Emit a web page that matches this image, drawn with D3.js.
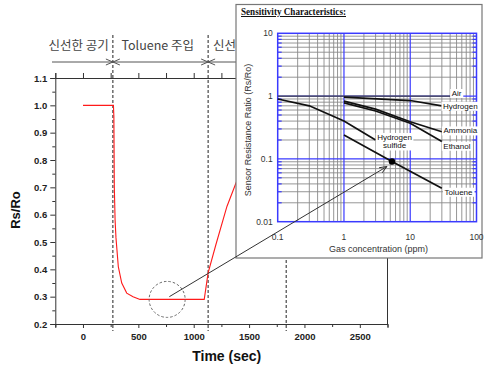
<!DOCTYPE html>
<html>
<head>
<meta charset="utf-8">
<script src="https://cdn.jsdelivr.net/npm/d3@7"></script>
<style>
body{margin:0;background:#fff;}
svg{display:block;}
</style>
</head>
<body>
<svg id="chart" width="486" height="366"></svg>
<script>
// sensor response to toluene, Rs/Ro over time
var timeSec = [0, 275, 279, 283, 290, 298, 319, 350, 395, 452, 515, 1095, 1130, 1200, 1300, 1400, 1440];
var rsRo    = [1.0, 1.0, 0.96, 0.70, 0.58, 0.515, 0.41, 0.35, 0.313, 0.30, 0.29, 0.29, 0.387, 0.49, 0.63, 0.735, 0.78];
var timeTicks = [0, 500, 1000, 1500, 2000, 2500];
var timeMinor = [-250, 250, 750, 1250, 1750, 2250, 2750];
var ratioTicks = [0.2, 0.3, 0.4, 0.5, 0.6, 0.7, 0.8, 0.9, 1.0, 1.1];
var ratioMinor = [0.25, 0.35, 0.45, 0.55, 0.65, 0.75, 0.85, 0.95, 1.05];
var phaseLines = [270, 1130, 1835];
var phaseLabels = ["신선한 공기", "Toluene 주입", "신선한"];
var phaseLabelAt = [-40, 675, 1175];
var phaseAnchor = ["middle", "middle", "start"];

// inset: sensitivity characteristics (log-log)
var airConc = [0.1, 40],        airRatio = [1.0, 1.0];
var hydConc = [1, 10, 30],      hydRatio = [0.96, 0.85, 0.70];
var ammConc = [1, 3, 10, 30],   ammRatio = [0.83, 0.62, 0.39, 0.27];
var ethConc = [1, 3, 10, 30],   ethRatio = [0.78, 0.58, 0.37, 0.19];
var h2sConc = [0.1, 0.3, 1, 3], h2sRatio = [0.9, 0.7, 0.4, 0.2];
var tolConc = [1, 5.3, 30],     tolRatio = [0.24, 0.091, 0.034];
var gasNames = ["Air", "Hydrogen", "Ammonia", "Ethanol", "Hydrogen|sulfide", "Toluene"];
var gasLabelConc  = [50, 57, 57, 50.6, 5.8, 53.5];
var gasLabelRatio = [1.12, 0.70, 0.284, 0.162, 0.193, 0.030];
var concTicks = [0.1, 1, 10, 100];
var concTickLabels = ["0.1", "1", "10", "100"];
var logRatioTicks = [0.01, 0.1, 1, 10];
var logRatioLabels = ["0.01", "0.1", "1", "10"];
var markConc = 5.3, markRatio = 0.091;
var zoomTime = 760, zoomRatio = 0.29;

var svg = d3.select("#chart");
var sans = "'Liberation Sans', Arial, sans-serif";

var x = d3.scaleLinear().domain([-250, 2750]).range([55.3, 387.5]);
var y = d3.scaleLinear().domain([0.2, 1.1]).range([324, 78]);

var main = svg.append("g").attr("id", "main");

// axes
function styleAxis(g)
{
    g.selectAll("path.domain").attr("stroke", "#333");
    g.selectAll(".tick line").attr("stroke", "#333");
    g.selectAll("text")
    .style("font-family", sans)
    .style("font-weight", "bold")
    .style("font-size", "9.5px")
    .attr("fill", "#222");
}

main.append("g").attr("transform", "translate(" + x.range()[0] + ",0)")
.call(d3.axisLeft(y).tickValues(ratioTicks).tickSize(5).tickPadding(3).tickFormat(d3.format(".1f")))
.call(styleAxis);
main.append("g").attr("transform", "translate(" + x.range()[0] + ",0)")
.call(d3.axisLeft(y).tickValues(ratioMinor).tickSize(3).tickFormat(""))
.call(styleAxis).select("path.domain").remove();

main.append("g").attr("transform", "translate(0," + y.range()[0] + ")")
.call(d3.axisBottom(x).tickValues(timeTicks).tickSize(4).tickPadding(5).tickFormat(d3.format("d")))
.call(styleAxis);
main.append("g").attr("transform", "translate(0," + y.range()[0] + ")")
.call(d3.axisBottom(x).tickValues(timeMinor).tickSize(3).tickFormat(""))
.call(styleAxis).select("path.domain").remove();

main.append("g").attr("transform", "translate(0," + y.range()[1] + ")")
.call(d3.axisTop(x).tickValues(timeTicks.concat(timeMinor)).tickSize(5).tickFormat(""))
.call(styleAxis);

main.append("line")
.attr("x1", x.range()[1]).attr("x2", x.range()[1])
.attr("y1", y.range()[1]).attr("y2", y.range()[0])
.attr("stroke", "#333");

// phase separators
main.selectAll("line.phase").data(phaseLines).enter().append("line")
.attr("class", "phase")
.attr("x1", function(d){ return x(d); }).attr("x2", function(d){ return x(d); })
.attr("y1", 35).attr("y2", 331)
.attr("stroke", "#222").attr("stroke-width", 1)
.attr("stroke-dasharray", "3,2");

main.append("line")
.attr("x1", 52).attr("x2", 480)
.attr("y1", 62).attr("y2", 62)
.attr("stroke", "#555");

main.selectAll("path.chev").data(phaseLines).enter().append("path")
.attr("class", "chev")
.attr("d", function(d){
    var px = x(d);
    return "M" + (px - 7) + ",59L" + px + ",62L" + (px - 7) + ",65" +
           "M" + (px + 7) + ",59L" + px + ",62L" + (px + 7) + ",65";
})
.attr("fill", "none").attr("stroke", "#555");

main.selectAll("text.phase").data(phaseLabels).enter().append("text")
.attr("class", "phase")
.attr("x", function(d, i){ return x(phaseLabelAt[i]); })
.attr("y", 50)
.attr("text-anchor", function(d, i){ return phaseAnchor[i]; })
.style("font-family", "'Noto Sans CJK KR', 'Noto Sans', sans-serif")
.style("font-size", "12.5px")
.attr("fill", "#444")
.text(function(d){ return d; });

// response curve
main.append("path")
.datum(timeSec.map(function(t, i){ return [t, rsRo[i]]; }))
.attr("d", d3.line().x(function(d){ return x(d[0]); }).y(function(d){ return y(d[1]); }))
.attr("fill", "none").attr("stroke", "#ff1a1a").attr("stroke-width", 1.1);

// axis titles
main.append("text")
.attr("transform", "translate(20,210) rotate(-90)")
.attr("text-anchor", "middle")
.style("font-family", sans).style("font-weight", "bold").style("font-size", "13px")
.attr("fill", "#111")
.text("Rs/Ro");

main.append("text")
.attr("x", 226.7).attr("y", 360.5)
.attr("text-anchor", "middle")
.style("font-family", sans).style("font-weight", "bold").style("font-size", "14px")
.attr("fill", "#111")
.text("Time (sec)");

// ---------- inset ----------
var cx = d3.scaleLog().domain([0.1, 100]).range([277.7, 476.5]);
var cy = d3.scaleLog().domain([0.01, 10]).range([221.7, 33.3]);
var blue = "#3a3aff";

var inset = svg.append("g").attr("id", "inset");

inset.append("rect")
.attr("x", 236).attr("y", 4.5)
.attr("width", 246).attr("height", 253.5)
.attr("fill", "#fff").attr("stroke", "#777").attr("stroke-width", 1.2);

inset.append("text")
.attr("x", 241).attr("y", 15)
.attr("textLength", 105).attr("lengthAdjust", "spacingAndGlyphs")
.style("font-family", "'Liberation Serif', 'Times New Roman', serif")
.style("font-weight", "bold").style("font-size", "10px")
.style("text-decoration", "underline")
.attr("fill", "#111")
.text("Sensitivity Characteristics:");

var minorConc = [], minorRatio = [];
[0.1, 1, 10].forEach(function(b){
    for (var k = 2; k <= 9; k++) minorConc.push(b * k);
});
[0.01, 0.1, 1].forEach(function(b){
    for (var k = 2; k <= 9; k++) minorRatio.push(b * k);
});

inset.selectAll("line.vmin").data(minorConc).enter().append("line")
.attr("x1", function(d){ return cx(d); }).attr("x2", function(d){ return cx(d); })
.attr("y1", cy.range()[1]).attr("y2", cy.range()[0])
.attr("stroke", "#8a8a8a").attr("stroke-width", 0.9);

inset.selectAll("line.hmin").data(minorRatio).enter().append("line")
.attr("y1", function(d){ return cy(d); }).attr("y2", function(d){ return cy(d); })
.attr("x1", cx.range()[0]).attr("x2", cx.range()[1])
.attr("stroke", "#8a8a8a").attr("stroke-width", 0.9);

// inward blue ticks on left and right borders
inset.selectAll("line.tl").data(minorRatio).enter().append("line")
.attr("y1", function(d){ return cy(d); }).attr("y2", function(d){ return cy(d); })
.attr("x1", cx.range()[0]).attr("x2", cx.range()[0] + 4)
.attr("stroke", blue).attr("stroke-width", 1.2);
inset.selectAll("line.tr").data(minorRatio).enter().append("line")
.attr("y1", function(d){ return cy(d); }).attr("y2", function(d){ return cy(d); })
.attr("x1", cx.range()[1] - 4).attr("x2", cx.range()[1])
.attr("stroke", blue).attr("stroke-width", 1.2);

inset.selectAll("line.vmaj").data([1, 10]).enter().append("line")
.attr("x1", function(d){ return cx(d); }).attr("x2", function(d){ return cx(d); })
.attr("y1", cy.range()[1]).attr("y2", cy.range()[0])
.attr("stroke", blue).attr("stroke-width", 1.2);

inset.selectAll("line.hmaj").data([0.1, 1]).enter().append("line")
.attr("y1", function(d){ return cy(d); }).attr("y2", function(d){ return cy(d); })
.attr("x1", cx.range()[0]).attr("x2", cx.range()[1])
.attr("stroke", blue).attr("stroke-width", 1.2);

inset.append("rect")
.attr("x", cx.range()[0]).attr("y", cy.range()[1])
.attr("width", cx.range()[1] - cx.range()[0])
.attr("height", cy.range()[0] - cy.range()[1])
.attr("fill", "none").attr("stroke", blue).attr("stroke-width", 1.5);

// gas curves
var gasLine = d3.line().x(function(d){ return cx(d[0]); }).y(function(d){ return cy(d[1]); });
function zip(a, b){ return a.map(function(v, i){ return [v, b[i]]; }); }

inset.append("path").datum(zip(airConc, airRatio)).attr("d", gasLine)
.attr("fill", "none").attr("stroke", "#444").attr("stroke-width", 1.2);

[[hydConc, hydRatio], [ammConc, ammRatio], [ethConc, ethRatio], [h2sConc, h2sRatio], [tolConc, tolRatio]]
.forEach(function(s){
    inset.append("path").datum(zip(s[0], s[1])).attr("d", gasLine)
    .attr("fill", "none").attr("stroke", "#111").attr("stroke-width", 1.7);
});

// gas labels on white boxes
gasNames.forEach(function(name, i){
    var g = inset.append("g");
    var lines = name.split("|");
    var t = g.append("text")
    .attr("x", cx(gasLabelConc[i]))
    .attr("y", cy(gasLabelRatio[i]) + 3 - (lines.length - 1) * 4)
    .attr("text-anchor", "middle")
    .style("font-family", sans).style("font-size", "8px")
    .attr("fill", "#111");
    lines.forEach(function(l, j){
        t.append("tspan").attr("x", cx(gasLabelConc[i])).attr("dy", j ? 8.5 : 0).text(l);
    });
    var bb = t.node().getBBox();
    g.insert("rect", "text")
    .attr("x", bb.x - 1.5).attr("y", bb.y)
    .attr("width", bb.width + 3).attr("height", bb.height)
    .attr("fill", "#fff");
});

inset.append("circle")
.attr("cx", cx(markConc)).attr("cy", cy(markRatio))
.attr("r", 3.2).attr("fill", "#000");

// inset tick labels and titles
inset.selectAll("text.yt").data(logRatioTicks).enter().append("text")
.attr("x", cx.range()[0] - 5)
.attr("y", function(d){ return cy(d) + 3; })
.attr("text-anchor", "end")
.style("font-family", sans).style("font-size", "8.5px")
.attr("fill", "#333")
.text(function(d, i){ return logRatioLabels[i]; });

inset.selectAll("text.xt").data(concTicks).enter().append("text")
.attr("x", function(d){ return cx(d); })
.attr("y", 240)
.attr("text-anchor", "middle")
.style("font-family", sans).style("font-size", "8.5px")
.attr("fill", "#333")
.text(function(d, i){ return concTickLabels[i]; });

inset.append("text")
.attr("x", 378.5).attr("y", 251.5)
.attr("text-anchor", "middle")
.style("font-family", sans).style("font-size", "9px")
.attr("fill", "#333")
.text("Gas concentration (ppm)");

inset.append("text")
.attr("transform", "translate(251,130) rotate(-90)")
.attr("text-anchor", "middle")
.style("font-family", sans).style("font-size", "9px")
.attr("fill", "#333")
.text("Sensor Resistance Ratio (Rs/Ro)");

// zoom circle and pointer arrow
svg.append("circle")
.attr("cx", x(zoomTime)).attr("cy", y(zoomRatio))
.attr("r", 18)
.attr("fill", "none").attr("stroke", "#666")
.attr("stroke-dasharray", "2.5,2");

var ax0 = x(zoomTime + 20), ay0 = y(zoomRatio + 0.01);
var ax1 = cx(markConc) - 5, ay1 = cy(markRatio) + 5;
var ang = Math.atan2(ay1 - ay0, ax1 - ax0);
svg.append("line")
.attr("x1", ax0).attr("y1", ay0).attr("x2", ax1).attr("y2", ay1)
.attr("stroke", "#333").attr("stroke-width", 1);
svg.append("path")
.attr("d", "M" + (ax1 - 8 * Math.cos(ang - 0.38)) + "," + (ay1 - 8 * Math.sin(ang - 0.38)) +
           "L" + ax1 + "," + ay1 +
           "L" + (ax1 - 8 * Math.cos(ang + 0.38)) + "," + (ay1 - 8 * Math.sin(ang + 0.38)))
.attr("fill", "none").attr("stroke", "#333").attr("stroke-width", 1);
</script>
</body>
</html>
